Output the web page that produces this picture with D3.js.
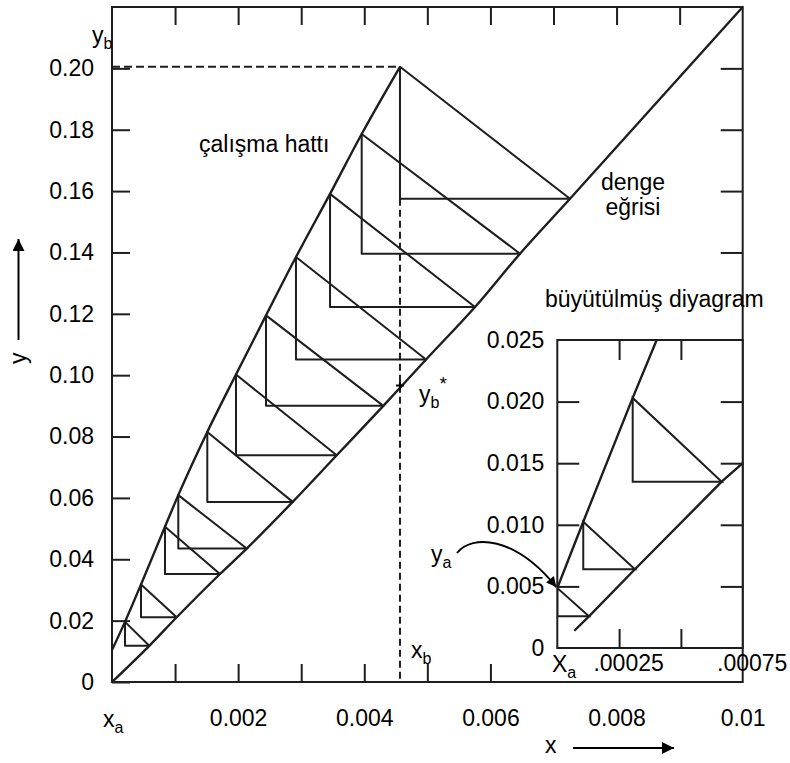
<!DOCTYPE html>
<html>
<head>
<meta charset="utf-8">
<script src="https://cdn.jsdelivr.net/npm/d3@7"></script>
<style>
  body { margin: 0; background: #fff; }
  svg text { font-family: "Liberation Sans", Arial, sans-serif; fill: #000; }
</style>
</head>
<body>
<svg id="chart" width="790" height="763"></svg>
<script>
// equilibrium curve (denge eğrisi)
const eqX = [0, 0.000591, 0.001026, 0.001712, 0.002136, 0.002865, 0.003563, 0.004302, 0.004979, 0.005756, 0.006469, 0.007262, 0.01];
const eqY = [0, 0.0118, 0.0211, 0.0352, 0.0435, 0.0587, 0.0739, 0.0900, 0.1051, 0.1222, 0.1396, 0.1575, 0.22];

// operating line (çalışma hattı)
const opX = [0, 0.000206, 0.00046, 0.00084, 0.001051, 0.001511, 0.001966, 0.002442, 0.002917, 0.003457, 0.003959, 0.004566];
const opY = [0.0104, 0.0196, 0.0318, 0.0506, 0.0609, 0.0815, 0.1002, 0.1195, 0.1385, 0.1591, 0.1786, 0.2005];

// stages: operating point i joins equilibrium point i
const stages = [1, 2, 3, 4, 5, 6, 7, 8, 9, 10, 11];
const ybStar = 0.0966;

// enlarged diagram (büyütülmüş diyagram)
const inOpX = [0, 0.000105, 0.000305, 0.000402];
const inOpY = [0.00487, 0.01025, 0.0203, 0.025];
const inEqX = [0.0000688, 0.000128, 0.000314, 0.000665, 0.00075];
const inEqY = [0.0014, 0.00257, 0.00639, 0.0135, 0.015];
const inStages = [[0, 1], [1, 2], [2, 3]];

// ticks
const yTicks = [0, 0.02, 0.04, 0.06, 0.08, 0.10, 0.12, 0.14, 0.16, 0.18, 0.20];
const yTicksRight = [0.14, 0.16, 0.18, 0.20];
const xTicksTop = [0.001, 0.002, 0.003, 0.004, 0.005, 0.006, 0.007, 0.008, 0.009];
const xTicksBottom = [0.001, 0.002, 0.003, 0.004, 0.005, 0.006];
const xLabels = [0.002, 0.004, 0.006, 0.008, 0.01];
const xLabelText = ["0.002", "0.004", "0.006", "0.008", "0.01"];
const inYTicks = [0.005, 0.010, 0.015, 0.020];
const inYLabels = [0, 0.005, 0.010, 0.015, 0.020, 0.025];
const inXTicks = [0.00025, 0.0005];
const inXLabels = [0.00025, 0.00075];
const inXLabelText = [".00025", ".00075"];

const ink = "#1e1e1e";
const fs = 23;
const svg = d3.select("#chart");

const x = d3.scaleLinear().domain([0, 0.01]).range([112, 742.7]);
const y = d3.scaleLinear().domain([0, 0.22]).range([682, 7]);

const defs = svg.append("defs");
defs.append("marker")
  .attr("id", "head")
  .attr("viewBox", "0 0 10 10")
  .attr("refX", 10).attr("refY", 5)
  .attr("markerWidth", 16).attr("markerHeight", 12)
  .attr("markerUnits", "userSpaceOnUse")
  .attr("orient", "auto")
  .append("path").attr("d", "M0,0 L10,5 L0,10 Z").attr("fill", "#000");
defs.append("marker")
  .attr("id", "headSmall")
  .attr("viewBox", "0 0 10 10")
  .attr("refX", 10).attr("refY", 5)
  .attr("markerWidth", 13).attr("markerHeight", 10)
  .attr("markerUnits", "userSpaceOnUse")
  .attr("orient", "auto")
  .append("path").attr("d", "M0,0 L10,5 L0,10 Z").attr("fill", "#000");

const styleAxis = g => {
  g.select(".domain").remove();
  g.selectAll("line").attr("stroke", ink).attr("stroke-width", 2);
  g.selectAll("text").attr("font-size", fs).attr("font-family", null);
};

// axes (ticks point inward)
svg.append("g").attr("transform", "translate(112,0)")
  .call(d3.axisLeft(y).tickValues(yTicks).tickSize(-18).tickPadding(18)
    .tickFormat(d => d === 0 ? "0" : d3.format(".2f")(d)))
  .call(styleAxis);
svg.append("g").attr("transform", "translate(742.7,0)")
  .call(d3.axisRight(y).tickValues(yTicksRight).tickSize(-22).tickFormat(""))
  .call(styleAxis);
svg.append("g").attr("transform", "translate(0,7)")
  .call(d3.axisTop(x).tickValues(xTicksTop).tickSize(-18).tickFormat(""))
  .call(styleAxis);
svg.append("g").attr("transform", "translate(0,682)")
  .call(d3.axisBottom(x).tickValues(xTicksBottom).tickSize(-18).tickFormat(""))
  .call(styleAxis);
svg.append("g").attr("transform", "translate(0,682)")
  .call(d3.axisBottom(x).tickValues(xLabels).tickSize(0).tickPadding(28)
    .tickFormat((d, i) => xLabelText[i]))
  .call(styleAxis);

// frame
svg.append("rect")
  .attr("x", x(0)).attr("y", y(0.22))
  .attr("width", x(0.01) - x(0)).attr("height", y(0) - y(0.22))
  .attr("fill", "none").attr("stroke", ink).attr("stroke-width", 2);

const line = d3.line().curve(d3.curveMonotoneX);

// dashed guides to y_b and x_b
const last = opX.length - 1;
svg.append("line")
  .attr("x1", x(0)).attr("y1", y(opY[last]))
  .attr("x2", x(opX[last])).attr("y2", y(opY[last]))
  .attr("stroke", ink).attr("stroke-width", 2).attr("stroke-dasharray", "8,4");
svg.append("line")
  .attr("x1", x(opX[last])).attr("y1", y(eqY[last]))
  .attr("x2", x(opX[last])).attr("y2", y(0))
  .attr("stroke", ink).attr("stroke-width", 2).attr("stroke-dasharray", "7,4");

// stage triangles
const tri = svg.append("g").attr("fill", "none").attr("stroke", ink).attr("stroke-width", 2)
  .attr("stroke-linejoin", "round");
stages.forEach(i => {
  const pts = [[x(opX[i]), y(opY[i])], [x(opX[i]), y(eqY[i])], [x(eqX[i]), y(eqY[i])]];
  tri.append("path").attr("d", d3.line()(pts) + "Z");
});

// curves
svg.append("path")
  .attr("d", line(eqX.map((d, i) => [x(d), y(eqY[i])])))
  .attr("fill", "none").attr("stroke", ink).attr("stroke-width", 2.4);
svg.append("path")
  .attr("d", line(opX.map((d, i) => [x(d), y(opY[i])])))
  .attr("fill", "none").attr("stroke", ink).attr("stroke-width", 2.4);

// y_b* mark
svg.append("path")
  .attr("d", `M${x(opX[last]) - 4},${y(ybStar)}h8M${x(opX[last])},${y(ybStar) - 4}v8`)
  .attr("stroke", "#000").attr("stroke-width", 2);

// ---- inset ----
const xi = d3.scaleLinear().domain([0, 0.00075]).range([557.3, 742.7]);
const yi = d3.scaleLinear().domain([0, 0.025]).range([648, 340]);

const inset = svg.append("g");
inset.append("rect")
  .attr("x", xi(0)).attr("y", yi(0.025))
  .attr("width", xi(0.00075) - xi(0)).attr("height", yi(0) - yi(0.025))
  .attr("fill", "#fff");
defs.append("clipPath").attr("id", "inClip").append("rect")
  .attr("x", xi(0)).attr("y", yi(0.025))
  .attr("width", xi(0.00075) - xi(0)).attr("height", yi(0) - yi(0.025));

inset.append("g").attr("transform", `translate(${xi(0)},0)`)
  .call(d3.axisLeft(yi).tickValues(inYTicks).tickSize(-22).tickFormat(""))
  .call(styleAxis);
inset.append("g").attr("transform", `translate(${xi(0)},0)`)
  .call(d3.axisLeft(yi).tickValues(inYLabels).tickSize(0).tickPadding(13)
    .tickFormat(d => d === 0 ? "0" : d3.format(".3f")(d)))
  .call(styleAxis);
inset.append("g").attr("transform", `translate(${xi(0.00075)},0)`)
  .call(d3.axisRight(yi).tickValues(inYTicks).tickSize(-22).tickFormat(""))
  .call(styleAxis);
inset.append("g").attr("transform", `translate(0,${yi(0.025)})`)
  .call(d3.axisTop(xi).tickValues(inXTicks).tickSize(-20).tickFormat(""))
  .call(styleAxis);
inset.append("g").attr("transform", `translate(0,${yi(0)})`)
  .call(d3.axisBottom(xi).tickValues(inXTicks).tickSize(-19).tickFormat(""))
  .call(styleAxis);
inset.append("g").attr("transform", `translate(0,${yi(0)})`)
  .call(d3.axisBottom(xi).tickValues(inXLabels).tickSize(0).tickPadding(7)
    .tickFormat((d, i) => inXLabelText[i]))
  .call(styleAxis)
  .selectAll("text").attr("dx", 9);

const inPlot = inset.append("g").attr("clip-path", "url(#inClip)");
const inTri = inPlot.append("g").attr("fill", "none").attr("stroke", ink).attr("stroke-width", 2);
inStages.forEach(([a, c]) => {
  const pts = [[xi(inOpX[a]), yi(inOpY[a])], [xi(inOpX[a]), yi(inEqY[c])], [xi(inEqX[c]), yi(inEqY[c])]];
  inTri.append("path").attr("d", d3.line()(pts) + "Z");
});
inPlot.append("path")
  .attr("d", d3.line()(inEqX.map((d, i) => [xi(d), yi(inEqY[i])])))
  .attr("fill", "none").attr("stroke", ink).attr("stroke-width", 2.4);
inPlot.append("path")
  .attr("d", line(inOpX.map((d, i) => [xi(d), yi(inOpY[i])])))
  .attr("fill", "none").attr("stroke", ink).attr("stroke-width", 2.4);

inset.append("rect")
  .attr("x", xi(0)).attr("y", yi(0.025))
  .attr("width", xi(0.00075) - xi(0)).attr("height", yi(0) - yi(0.025))
  .attr("fill", "none").attr("stroke", ink).attr("stroke-width", 2);

// ---- labels ----
const label = (tx, ty, main, sub, extra) => {
  const t = svg.append("text").attr("x", tx).attr("y", ty).attr("font-size", fs);
  t.append("tspan").text(main);
  if (sub) t.append("tspan").attr("font-size", 16).attr("dy", 6).text(sub);
  if (extra) t.append("tspan").attr("font-size", 19).attr("dy", -18).text(extra);
  return t;
};

label(92, 43, "y", "b");
label(103, 727, "x", "a");
label(411, 658, "x", "b");
label(419, 402, "y", "b", "*");
label(431, 562, "y", "a");
label(552, 672, "X", "a");

svg.append("text").attr("x", 199).attr("y", 152).attr("font-size", fs).text("çalışma hattı");
svg.append("text").attr("x", 633).attr("y", 190).attr("font-size", fs).attr("text-anchor", "middle").text("denge");
svg.append("text").attr("x", 633).attr("y", 215).attr("font-size", fs).attr("text-anchor", "middle").text("eğrisi");
svg.append("text").attr("x", 545).attr("y", 307).attr("font-size", fs).text("büyütülmüş diyagram");

// axis names with arrows
svg.append("text").attr("x", 545).attr("y", 753).attr("font-size", fs).text("x");
svg.append("line").attr("x1", 573).attr("y1", 748).attr("x2", 674).attr("y2", 748)
  .attr("stroke", "#000").attr("stroke-width", 2).attr("marker-end", "url(#head)");
svg.append("text").attr("transform", "translate(26,364) rotate(-90)").attr("font-size", fs).text("y");
svg.append("line").attr("x1", 18.5).attr("y1", 340).attr("x2", 18.5).attr("y2", 239)
  .attr("stroke", "#000").attr("stroke-width", 2).attr("marker-end", "url(#head)");

// curved arrow from y_a to the start of the inset operating line
svg.append("path")
  .attr("d", `M457,553 C472,534 515,536 ${xi(inOpX[0]) - 1},${yi(inOpY[0]) - 1}`)
  .attr("fill", "none").attr("stroke", "#000").attr("stroke-width", 2)
  .attr("marker-end", "url(#headSmall)");
</script>
</body>
</html>
